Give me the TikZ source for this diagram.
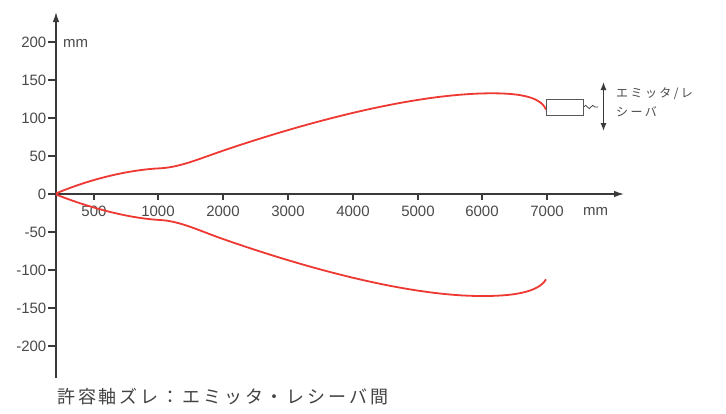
\documentclass[tikz,border=0pt]{standalone}
\usepackage{fontspec}
\setmainfont{Liberation Sans}
\newfontfamily\jpsp[LetterSpace=16]{Noto Sans CJK JP}
\newfontfamily\jpsmall[LetterSpace=20]{Noto Sans CJK JP}
\usetikzlibrary{arrows.meta,decorations.pathmorphing}
\definecolor{axisc}{HTML}{3A3A3A}
\definecolor{txtc}{HTML}{4A4A4A}
\definecolor{curvec}{HTML}{EE3832}
\tikzset{
  axisline/.style={draw=axisc, line width=1.3pt},
  tickline/.style={draw=axisc, line width=1.1pt},
  ylab/.style={anchor=east, inner sep=0pt, text=txtc, font=\fontsize{15}{17}\selectfont},
  xlab/.style={anchor=center, inner sep=0pt, text=txtc, font=\fontsize{15}{17}\selectfont},
  curve/.style={draw=curvec, line width=1.8pt},
  emitbox/.style={draw=axisc!85, line width=1pt, minimum width=37pt, minimum height=16pt, inner sep=0pt},
  jplab/.style={anchor=west, inner sep=0pt, text=txtc, font=\jpsmall\fontsize{12}{14}\selectfont}
}
\begin{document}
\begin{tikzpicture}[x=1pt,y=-1pt]
\useasboundingbox[fill=white] (0,0) rectangle (726,413);
% axes
\coordinate (O) at (56,194);
\coordinate (ytop) at (56,12);
\coordinate (ybot) at (56,378);
\coordinate (xend) at (624,194);
\draw[axisline, -{Latex[length=10pt,width=6.5pt]}] (ybot) -- (ytop);
\draw[axisline, -{Latex[length=10pt,width=6.5pt]}] (O) -- (xend);
% y ticks
\foreach \v/\y in {200/42,150/80,100/118,50/156,0/194,-50/232,-100/270,-150/308,-200/346}{
  \coordinate (yt\v) at (48,\y);
  \draw[tickline] (yt\v) -- (56,\y);
  \node[ylab] (yl\v) at (46.5,\y) {\v};
}
\node[ylab, anchor=west] (ymm) at (63,43.5) {mm};
% x ticks
\foreach \v/\x in {500/94,1000/158,2000/223,3000/288,4000/353,5000/418,6000/482,7000/547}{
  \coordinate (xt\v) at (\x,200);
  \draw[tickline] (\x,194) -- (xt\v);
  \node[xlab] (xl\v) at (\x,211.5) {\v};
}
\node[xlab, anchor=west] (xmm) at (583,211.5) {mm};
% curves
\coordinate (uA) at (56,193.5);
\coordinate (uB) at (160,168.3);
\coordinate (uC) at (223,150.7);
\coordinate (uD) at (490,93.3);
\coordinate (uE) at (546,109.5);
\draw[curve] (uA) .. controls (85,181) and (125,170) .. (uB)
  .. controls (180,167.3) and (200,158.5) .. (uC)
  .. controls (280,131.3) and (400,94) .. (uD)
  .. controls (515,93.2) and (540,95.5) .. (uE);
\coordinate (lA) at (56,194.5);
\coordinate (lB) at (160,220);
\coordinate (lC) at (223,239);
\coordinate (lD) at (480,296);
\coordinate (lE) at (546,279.3);
\draw[curve] (lA) .. controls (85,206) and (125,218) .. (lB)
  .. controls (180,221) and (200,231) .. (lC)
  .. controls (280,259) and (395,295.5) .. (lD)
  .. controls (510,296.3) and (538,293) .. (lE);
% emitter/receiver
\node[emitbox] (box) at (564.5,107) {};
\coordinate (sqend) at (598,107);
\draw[draw=axisc, line width=0.7pt, decorate, decoration={snake, amplitude=1.6pt, segment length=7pt}] (box.east) -- (sqend);
\coordinate (atop) at (603.5,82);
\coordinate (abot) at (603.5,131);
\draw[draw=axisc, line width=1.2pt, {Latex[length=8pt,width=6pt]}-{Latex[length=8pt,width=6pt]}] (atop) -- (abot);
\node[jplab] (lab1) at (616,94) {エミッタ/レ};
\node[jplab] (lab2) at (616,112) {シーバ};
% caption
\node[anchor=west, inner sep=0pt, text=txtc!90!black, font=\jpsp\fontsize{18}{20}\selectfont] (cap) at (57,397) {許容軸ズレ：エミッタ・レシーバ間};
\end{tikzpicture}
\end{document}
